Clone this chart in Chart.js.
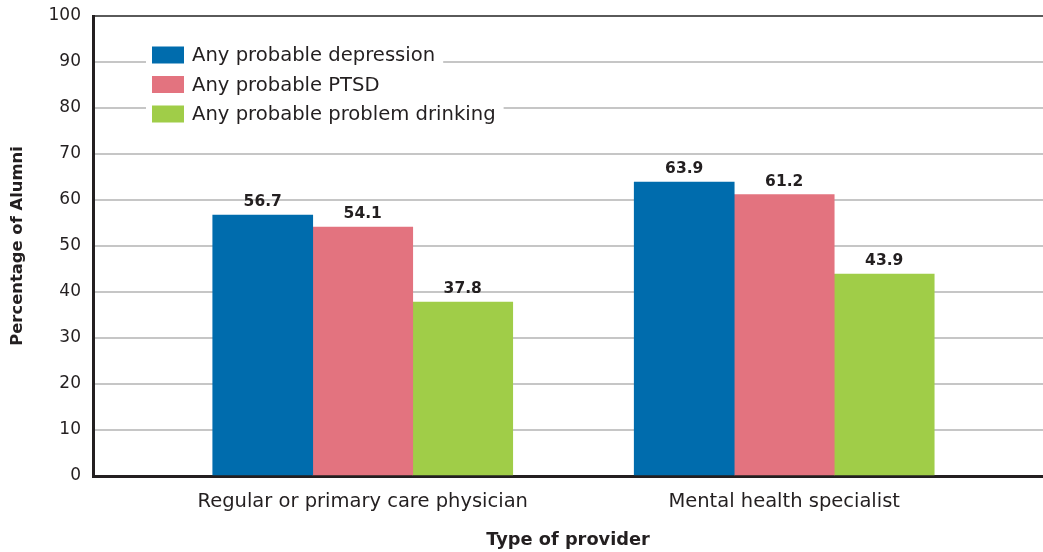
<!DOCTYPE html>
<html>
<head>
<meta charset="utf-8">
<script src="https://cdn.jsdelivr.net/npm/chart.js@4.4.0/dist/chart.umd.min.js"></script>
<style>
  html, body { margin: 0; padding: 0; background: #fff; }
  #wrap { width: 1043px; height: 552px; position: relative; }
</style>
</head>
<body>
<div id="wrap"><canvas id="chart"></canvas></div>
<script>
var categories = ["Regular or primary care physician", "Mental health specialist"];
var seriesNames = ["Any probable depression", "Any probable PTSD", "Any probable problem drinking"];
var depressionValues = [56.7, 63.9];
var ptsdValues = [54.1, 61.2];
var drinkingValues = [37.8, 43.9];
var yTicks = [0, 10, 20, 30, 40, 50, 60, 70, 80, 90, 100];
var barColors = ["#006cad", "#e3737f", "#a0cd48"];

var textColor = "#231f20";
var fontFamily = "'DejaVu Sans', sans-serif";

function toPoints(values) {
    return values.map(function (v, i) { return { x: i, y: v }; });
}

// value labels above the bars
var valueLabels = {
    id: "valueLabels",
    afterDatasetsDraw: function (chart) {
        var ctx = chart.ctx;
        ctx.save();
        ctx.font = "bold 15.5px " + fontFamily;
        ctx.fillStyle = textColor;
        ctx.textAlign = "center";
        ctx.textBaseline = "bottom";
        chart.data.datasets.forEach(function (ds, i) {
            chart.getDatasetMeta(i).data.forEach(function (bar, j) {
                ctx.fillText(ds.data[j].y.toFixed(1), bar.x, bar.y - 5);
            });
        });
        ctx.restore();
    }
};

// legend inside the plot, each row on its own white patch
var insideLegend = {
    id: "insideLegend",
    afterDatasetsDraw: function (chart) {
        var ctx = chart.ctx;
        ctx.save();
        ctx.font = "19.6px " + fontFamily;
        ctx.textBaseline = "middle";
        chart.data.datasets.forEach(function (ds, i) {
            var cy = 55 + i * 29.5;
            var w = ctx.measureText(ds.label).width;
            ctx.fillStyle = "#fff";
            ctx.fillRect(146, cy - 13, 192 - 146 + w + 8, 26);
            ctx.fillStyle = ds.backgroundColor;
            ctx.fillRect(152, cy - 8.5, 32, 17);
            ctx.fillStyle = textColor;
            ctx.fillText(ds.label, 192, cy + 1);
        });
        ctx.restore();
    }
};

new Chart("chart", {
    type: "bar",
    data: {
        datasets: [
            { label: seriesNames[0], data: toPoints(depressionValues), backgroundColor: barColors[0] },
            { label: seriesNames[1], data: toPoints(ptsdValues), backgroundColor: barColors[1] },
            { label: seriesNames[2], data: toPoints(drinkingValues), backgroundColor: barColors[2] }
        ]
    },
    options: {
        responsive: true,
        maintainAspectRatio: false,
        animation: false,
        layout: { padding: { top: 16, right: 0, left: 0, bottom: 0 } },
        datasets: { bar: { barThickness: 100, grouped: true } },
        plugins: {
            legend: { display: false },
            tooltip: { enabled: false }
        },
        scales: {
            x: {
                type: "linear",
                offset: false,
                min: -0.64,
                max: 1.614,
                afterBuildTicks: function (scale) {
                    scale.ticks = categories.map(function (c, i) { return { value: i }; });
                    scale.min = -0.64;
                    scale.max = 1.614;
                },
                afterFit: function (scale) {
                    scale.height = 76;
                    scale.paddingRight = 0;
                },
                grid: { display: false, drawTicks: false },
                border: { color: textColor, width: 3 },
                ticks: {
                    autoSkip: false,
                    maxRotation: 0,
                    padding: 14,
                    color: textColor,
                    font: { family: fontFamily, size: 19.5 },
                    callback: function (v) { return categories[v]; }
                },
                title: {
                    display: true,
                    text: "Type of provider",
                    color: textColor,
                    font: { family: fontFamily, size: 17.8, weight: "bold" },
                    padding: { top: 0, bottom: 1 }
                }
            },
            y: {
                min: 0,
                max: 100,
                afterBuildTicks: function (scale) {
                    scale.ticks = yTicks.map(function (v) { return { value: v }; });
                },
                afterFit: function (scale) {
                    scale.width = 93;
                    scale.paddingTop = 0;
                    scale.paddingBottom = 0;
                },
                grid: {
                    drawTicks: false,
                    color: function (c) { return c.tick && c.tick.value === 100 ? "#5a5a5a" : "#c6c6c6"; },
                    lineWidth: 2
                },
                border: { color: textColor, width: 3 },
                ticks: {
                    padding: 12,
                    color: textColor,
                    font: { family: fontFamily, size: 17 }
                },
                title: {
                    display: true,
                    text: "Percentage of Alumni",
                    color: textColor,
                    font: { family: fontFamily, size: 16.4, weight: "bold" },
                    padding: { top: 8, bottom: 0 }
                }
            }
        }
    },
    plugins: [valueLabels, insideLegend]
});
</script>
</body>
</html>
